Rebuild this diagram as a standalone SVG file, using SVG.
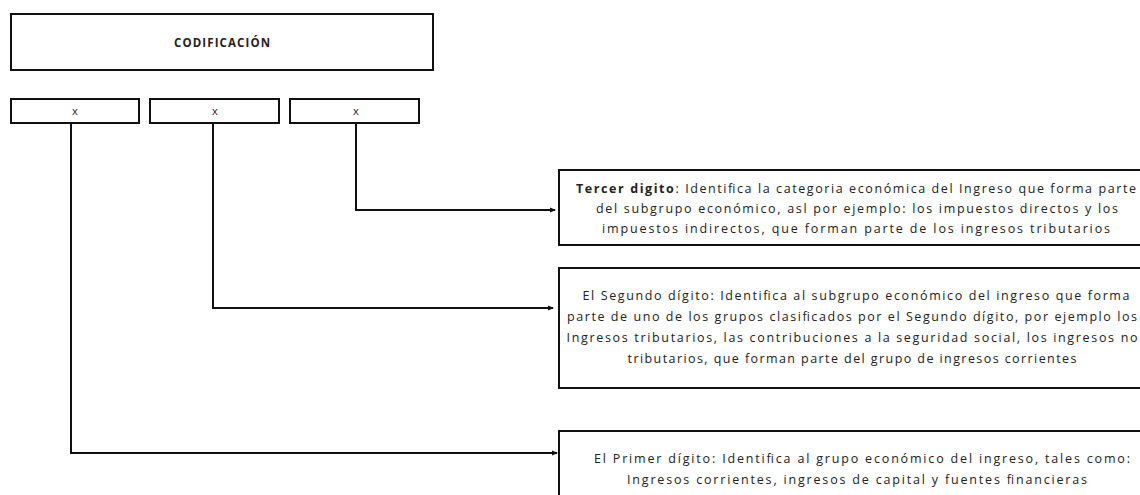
<svg xmlns="http://www.w3.org/2000/svg" width="1140" height="495" viewBox="0 0 1140 495">
<style>
.box{fill:#fff;stroke:#111;stroke-width:2}
.t{font-family:"Open Sans","Liberation Sans",sans-serif;font-size:12.5px;fill:#222;text-anchor:middle}
.b{font-weight:bold}
.c{fill:none;stroke:#111;stroke-width:2}
</style>
<defs>
<marker id="arr" markerWidth="6" markerHeight="6" refX="5" refY="3" orient="auto" markerUnits="userSpaceOnUse">
<path d="M0,0.5 L6,3 L0,5.5 Z" fill="#111"/>
</marker>
</defs>
<rect width="1140" height="495" fill="#fff"/>
<g id="codificacion">
<rect class="box" x="11" y="14" width="422" height="56"/>
<text class="t b" x="222" y="47" style="font-size:11.5px" textLength="96" lengthAdjust="spacing">CODIFICACIÓN</text>
</g>
<g id="digito1">
<rect class="box" x="11" y="99" width="128" height="24"/>
<text class="t" x="75" y="115" style="font-size:11px">x</text>
</g>
<g id="digito2">
<rect class="box" x="150" y="99" width="129" height="24"/>
<text class="t" x="215" y="115" style="font-size:11px">x</text>
</g>
<g id="digito3">
<rect class="box" x="290" y="99" width="129" height="24"/>
<text class="t" x="356" y="115" style="font-size:11px">x</text>
</g>
<g id="connectors">
<path class="c" d="M356,123 V210 H555" marker-end="url(#arr)"/>
<path class="c" d="M213,123 V308 H553" marker-end="url(#arr)"/>
<path class="c" d="M71,123 V453 H557" marker-end="url(#arr)"/>
</g>
<g id="tercer">
<rect class="box" x="559" y="170" width="600" height="75"/>
<text class="t" x="856" y="193" textLength="560" lengthAdjust="spacing"><tspan class="b">Tercer digito</tspan>: Identifica la categoria económica del Ingreso que forma parte</text>
<text class="t" x="857" y="213" textLength="522" lengthAdjust="spacing">del subgrupo económico, asl por ejemplo: los impuestos directos y los</text>
<text class="t" x="856" y="233" textLength="508" lengthAdjust="spacing">impuestos indirectos, que forman parte de los ingresos tributarios</text>
</g>
<g id="segundo">
<rect class="box" x="559" y="268" width="600" height="120"/>
<text class="t" x="856" y="300" textLength="547" lengthAdjust="spacing">El Segundo dígito: Identifica al subgrupo económico del ingreso que forma</text>
<text class="t" x="852" y="321" textLength="570" lengthAdjust="spacing">parte de uno de los grupos clasificados por el Segundo dígito, por ejemplo los</text>
<text class="t" x="852" y="342" textLength="571" lengthAdjust="spacing">Ingresos tributarios, las contribuciones a la seguridad social, los ingresos no</text>
<text class="t" x="852" y="363" textLength="449" lengthAdjust="spacing">tributarios, que forman parte del grupo de ingresos corrientes</text>
</g>
<g id="primer">
<rect class="box" x="559" y="431" width="600" height="80"/>
<text class="t" x="862" y="463" textLength="536" lengthAdjust="spacing">El Primer dígito: Identifica al grupo económico del ingreso, tales como:</text>
<text class="t" x="857" y="484" textLength="460" lengthAdjust="spacing">Ingresos corrientes, ingresos de capital y fuentes financieras</text>
</g>
</svg>
